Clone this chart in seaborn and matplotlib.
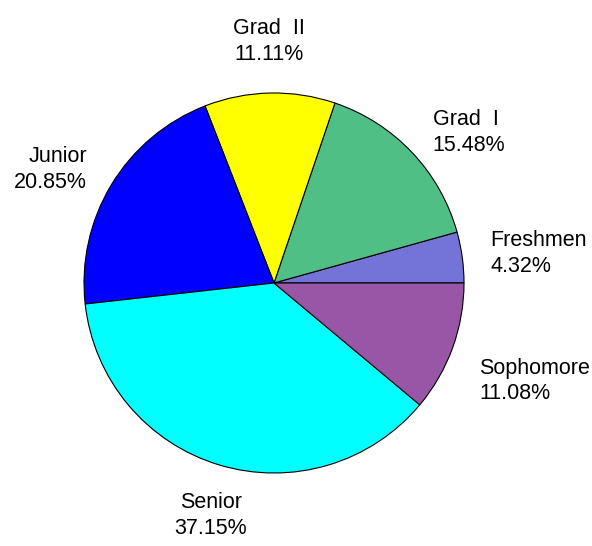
"""Class-year distribution pie, MATLAB-style labels around the rim."""

import numpy as np
import matplotlib.pyplot as plt
import seaborn as sns

CATEGORIES = ["Freshmen", "Grad  I", "Grad  II", "Junior", "Senior", "Sophomore"]
SHARES = [4.32, 15.48, 11.11, 20.85, 37.15, 11.08]
COLORS = ["#7373d8", "#4fbf85", "#ffff00", "#0000ff", "#00ffff", "#9955a6"]

W, H = 592, 546
CENTER = (274, 283)
RADIUS = 190
LABEL_DIST = 1.15

sns.set_theme(style="white")
plt.rcParams["font.family"] = ["Liberation Sans", "DejaVu Sans"]

fig = plt.figure(figsize=(W / 100, H / 100), dpi=100)
ax = fig.add_axes([0, 0, 1, 1])

wedges, _ = ax.pie(SHARES, colors=COLORS, radius=RADIUS, startangle=0,
                   counterclock=True,
                   wedgeprops=dict(edgecolor="black", linewidth=0.8))

# pie() resets the limits, so set the pixel-like frame afterwards
ax.set_xlim(-CENTER[0], W - CENTER[0])
ax.set_ylim(-(H - CENTER[1]), CENTER[1])
ax.set_aspect("equal")
ax.axis("off")

total = sum(SHARES)
start = 0.0
for name, val in zip(CATEGORIES, SHARES):
    mid = np.deg2rad(360 * (start + val / 2) / total)
    start += val
    c, s = np.cos(mid), np.sin(mid)
    x, y = LABEL_DIST * RADIUS * c, LABEL_DIST * RADIUS * s
    ha = "left" if c > 0.3 else ("right" if c < -0.3 else "center")
    va = "bottom" if s > 0.7 else ("top" if s < -0.3 else "center")
    ax.text(x, y, f"{name}\n{val:.2f}%", ha=ha, va=va, multialignment=ha,
            fontsize=15.5, linespacing=1.3, color="black")

fig.savefig("out.png", dpi=100)
